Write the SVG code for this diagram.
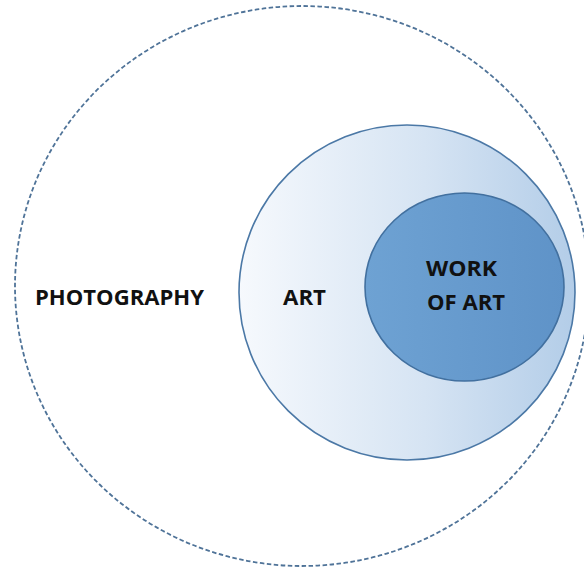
<svg xmlns="http://www.w3.org/2000/svg" width="584" height="569" viewBox="0 0 584 569">
  <defs>
    <linearGradient id="artFill" x1="0" y1="0" x2="1" y2="0">
      <stop offset="0" stop-color="#f6f9fd"/>
      <stop offset="0.55" stop-color="#d6e4f3"/>
      <stop offset="1" stop-color="#b3cde8"/>
    </linearGradient>
    <linearGradient id="workFill" x1="0" y1="0" x2="1" y2="0">
      <stop offset="0" stop-color="#6ea2d3"/>
      <stop offset="1" stop-color="#5f93c8"/>
    </linearGradient>
    <style>
      .label { font-family: "Open Sans", "Liberation Sans", Arial, sans-serif; font-weight: bold; font-size: 21.5px; fill: #111111; }
      .outer { fill: none; stroke: #4f7398; stroke-width: 1.8; stroke-dasharray: 4.5 2.5; }
      .art { fill: url(#artFill); stroke: #4b78a6; stroke-width: 1.6; }
      .work { fill: url(#workFill); stroke: #42709f; stroke-width: 1.6; }
    </style>
  </defs>

  <rect width="584" height="569" fill="#ffffff"/>

  <!-- outer dashed set -->
  <g id="photography">
    <ellipse class="outer" cx="302" cy="286" rx="287" ry="280"/>
    <text class="label" x="35" y="305" textLength="169" lengthAdjust="spacingAndGlyphs">PHOTOGRAPHY</text>
  </g>

  <!-- middle set with left-to-right shading -->
  <g id="art">
    <ellipse class="art" cx="407" cy="292.5" rx="168" ry="167.5"/>
    <text class="label" x="283" y="305" textLength="43" lengthAdjust="spacingAndGlyphs">ART</text>
  </g>

  <!-- innermost set -->
  <g id="work-of-art">
    <ellipse class="work" cx="464.5" cy="287" rx="99.5" ry="94"/>
    <text class="label" x="426" y="276" textLength="71" lengthAdjust="spacingAndGlyphs">WORK</text>
    <text class="label" x="427" y="310" textLength="78" lengthAdjust="spacingAndGlyphs">OF ART</text>
  </g>

  <g id="connectors"/>
</svg>
